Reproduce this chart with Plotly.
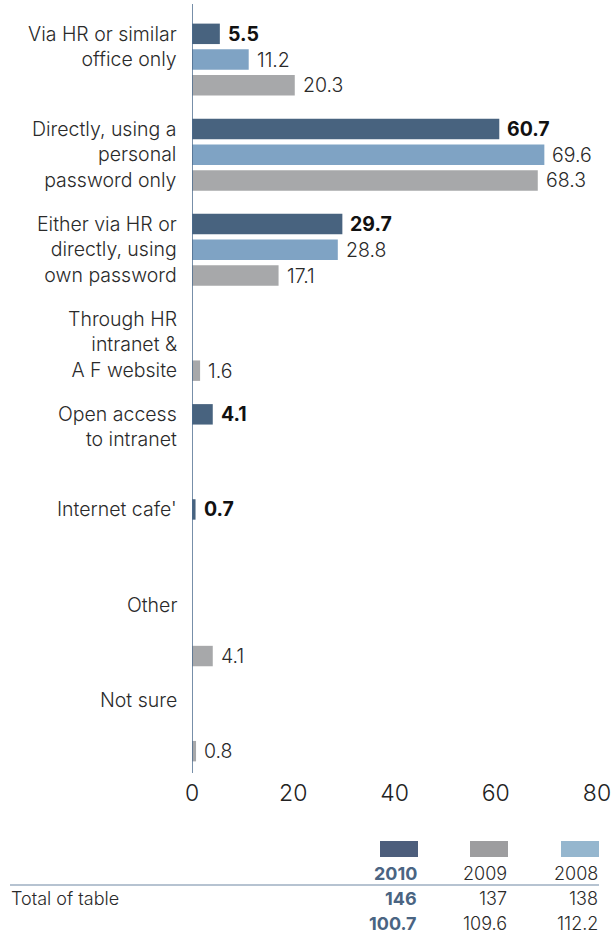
import plotly.graph_objects as go

# ---- data -------------------------------------------------------------
categories = [
    "Via HR or similar<br>office only",
    "Directly, using a<br>personal<br>password only",
    "Either via HR or<br>directly, using<br>own password",
    "Through HR<br>intranet &<br>A F website",
    "Open access<br>to intranet",
    "Internet cafe'",
    "Other",
    "Not sure",
]
# None = no answer recorded for that year
values_2010 = [5.5, 60.7, 29.7, None, 4.1, 0.7, None, None]
values_2008 = [11.2, 69.6, 28.8, None, None, None, None, None]
values_2009 = [20.3, 68.3, 17.1, 1.6, None, None, 4.1, 0.8]

years = ["2010", "2009", "2008"]
totals = ["146", "137", "138"]
sums = ["100.7", "109.6", "112.2"]

x_ticks = [0, 20, 40, 60, 80]

# ---- layout constants -------------------------------------------------
W, H = 616, 935
ML, MR, MT, MB = 192, 19, 12, 162
FONT = "Inter"
LIGHT = 300
TXT = "#2a2a2a"
C2010, C2008, C2009 = "#48637f", "#7fa3c4", "#a7a8aa"
L2010, L2009, L2008 = "#4d5e7c", "#9d9d9f", "#95b6ce"
BLUE_TXT = "#4a6482"

slot = 0.2705          # distance between bar centres inside a group
bar_w = 0.215          # bar thickness in category units


def px_x(px):
    return (px - ML) / (W - ML - MR)


def px_y(py):
    return (H - MB - py) / (H - MT - MB)


def fnt(size, color=TXT, weight=LIGHT):
    return dict(family=FONT, size=size, color=color, weight=weight)


fig = go.Figure()
annotations = []
shapes = []

series = [
    (values_2010, C2010, -1, True),
    (values_2008, C2008, 0, False),
    (values_2009, C2009, 1, False),
]
for vals, color, k, bold in series:
    ys = [i for i, v in enumerate(vals) if v is not None]
    xs = [v for v in vals if v is not None]
    fig.add_trace(go.Bar(
        x=xs, y=ys, orientation="h",
        width=bar_w, offset=k * slot - bar_w / 2,
        marker=dict(color=color, line=dict(width=0)),
        showlegend=False, hoverinfo="skip",
    ))
    for yv, xv in zip(ys, xs):
        annotations.append(dict(
            x=xv, y=yv + k * slot, xref="x", yref="y",
            text=f"{xv:.1f}",
            showarrow=False, xanchor="left", yanchor="middle", xshift=6,
            font=fnt(19.5, "#111", 700) if bold else fnt(19.5),
        ))

# category labels, first line aligned with the first bar of each group
for i, cat in enumerate(categories):
    annotations.append(dict(
        x=0, y=i - slot, xref="paper", yref="y",
        text=cat, showarrow=False, xanchor="right", yanchor="top",
        align="right", xshift=-13, yshift=14,
        font=fnt(19.5),
    ))

# vertical zero axis line
shapes.append(dict(type="line", xref="x", yref="paper",
                   x0=0, x1=0, y0=0, y1=px_y(4),
                   line=dict(color="#4a6a8c", width=1.5)))

# ---- legend / totals table below the chart ---------------------------
sw_right = [418, 508, 599]
sw_colors = [L2010, L2009, L2008]
for r, col in zip(sw_right, sw_colors):
    shapes.append(dict(type="rect", xref="paper", yref="paper",
                       x0=px_x(r - 38), x1=px_x(r), y0=px_y(857), y1=px_y(841),
                       fillcolor=col, line=dict(width=0)))

rows = [(873, years), (898.5, totals), (923, sums)]
for py, texts in rows:
    for j, (r, t) in enumerate(zip(sw_right, texts)):
        annotations.append(dict(
            x=px_x(r), y=px_y(py), xref="paper", yref="paper",
            text=t, showarrow=False, xanchor="right", yanchor="middle",
            borderpad=0,
            font=fnt(18, BLUE_TXT, 700) if j == 0 else fnt(18),
        ))
annotations.append(dict(
    x=px_x(10), y=px_y(898.5), xref="paper", yref="paper",
    text="Total of table", showarrow=False, xanchor="left", yanchor="middle",
    borderpad=0,
    font=fnt(18),
))
shapes.append(dict(type="line", xref="paper", yref="paper",
                   x0=px_x(10), x1=px_x(599), y0=px_y(885), y1=px_y(885),
                   line=dict(color="#6f87a3", width=1.2)))

fig.update_layout(
    width=W, height=H,
    margin=dict(l=ML, r=MR, t=MT, b=MB, autoexpand=False),
    paper_bgcolor="white", plot_bgcolor="white",
    barmode="overlay",
    annotations=annotations, shapes=shapes,
    xaxis=dict(range=[0, 80], tickvals=x_ticks, showgrid=False, zeroline=False,
               showline=False, ticks="", ticklabelstandoff=4, automargin=False,
               tickfont=fnt(23, "#222")),
    yaxis=dict(range=[7.5, -0.5], showgrid=False, zeroline=False, automargin=False,
               showline=False, showticklabels=False, ticks=""),
)

fig.write_html("out.html")
